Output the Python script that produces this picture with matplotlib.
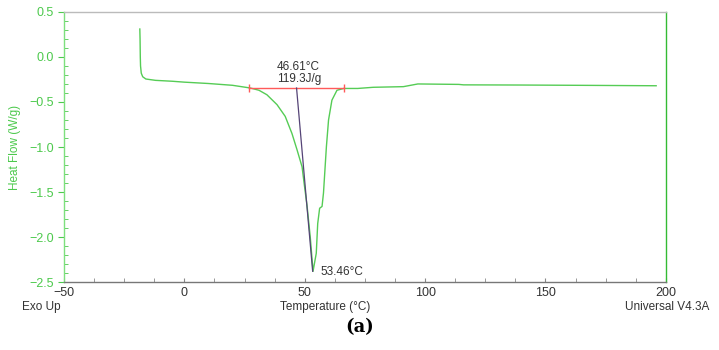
import numpy as np
import matplotlib.pyplot as plt
from matplotlib.ticker import MultipleLocator

plt.rcParams['font.family'] = ['Liberation Sans', 'DejaVu Sans']

# DSC curve
temp = [-18.5, -18.4, -18.3, -18.2, -17.9, -17.3, -16, -12, -5, 0, 10, 20,
        27.4, 31, 34.3, 38.5, 41.9, 44.7, 46.8, 48.9, 49.6, 51.0, 52.3,
        53.46, 54.8, 55.4, 56.2, 57.2, 57.8, 59.0, 59.9, 61.3, 63.4, 66.2,
        72, 78.5, 91, 97, 114, 116, 140, 170, 196]
heat_flow = [0.31, 0.2, 0.0, -0.1, -0.18, -0.22, -0.245, -0.26, -0.27, -0.28,
             -0.295, -0.315, -0.345, -0.37, -0.42, -0.53, -0.66, -0.85,
             -1.03, -1.22, -1.37, -1.66, -2.0, -2.38, -2.18, -1.85, -1.68,
             -1.66, -1.51, -1.0, -0.7, -0.48, -0.37, -0.35, -0.35, -0.337,
             -0.33, -0.30, -0.305, -0.31, -0.312, -0.316, -0.32]

base_t = [27, 66.4]
base_hf = [-0.345, -0.345]
onset_t = [46.61, 53.3]
onset_hf = [-0.345, -2.38]

green = '#4cc94c'
fig = plt.figure(figsize=(7.19, 3.5), dpi=100)
ax = fig.add_axes([0.089, 0.194, 0.837, 0.772])

ax.plot(temp, heat_flow, color='#55cc55', lw=1.0)
ax.plot(base_t, base_hf, color='#ff5a5a', lw=1.0)
ax.plot(base_t, base_hf, color='#ff5a5a', lw=0, marker='|', ms=6)
ax.plot(onset_t, onset_hf, color='#554477', lw=0.9)

ax.text(47.2, -0.15, '46.61°C', ha='center', fontsize=8.5, color='#333333')
ax.text(47.8, -0.28, '119.3J/g', ha='center', fontsize=8.5, color='#333333')
ax.text(56.5, -2.42, '53.46°C', ha='left', fontsize=8.5, color='#333333')

ax.set_xlim(-50, 200)
ax.set_ylim(-2.5, 0.5)
ax.xaxis.set_major_locator(MultipleLocator(50))
ax.xaxis.set_minor_locator(MultipleLocator(12.5))
ax.yaxis.set_major_locator(MultipleLocator(0.5))
ax.yaxis.set_minor_locator(MultipleLocator(0.1))

ax.tick_params(axis='x', which='both', direction='in', colors='#888888',
               labelcolor='#333333', labelsize=9, length=3)
ax.tick_params(axis='y', which='major', direction='out', colors=green,
               labelcolor=green, labelsize=9, length=4)
ax.tick_params(axis='y', which='minor', direction='in', colors=green, length=3)

ax.spines['left'].set_color('#7ee07e')
ax.spines['right'].set_color('#33bb33')
ax.spines['top'].set_color('#bbbbbb')
ax.spines['bottom'].set_color('#777777')
for s in ax.spines.values():
    s.set_linewidth(1.0)

ax.set_ylabel('Heat Flow (W/g)', color=green, fontsize=8.5, labelpad=6)

fig.text(0.031, 0.115, 'Exo Up', fontsize=8.5, color='#333333')
fig.text(0.452, 0.115, 'Temperature (°C)', ha='center', fontsize=8.5, color='#333333')
fig.text(0.987, 0.115, 'Universal V4.3A', ha='right', fontsize=8.5, color='#333333')
fig.text(0.5, 0.05, '(a)', ha='center', fontsize=13, family='DejaVu Serif',
         fontweight='bold', color='black')

fig.savefig('out.png', dpi=100)
